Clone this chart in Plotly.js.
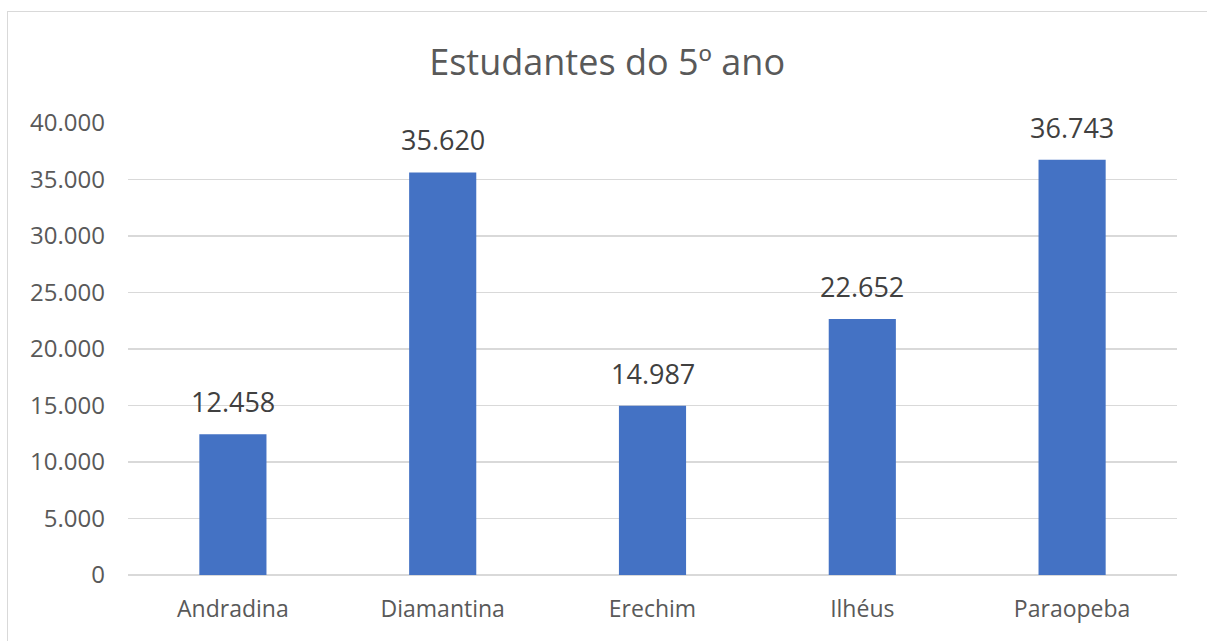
<!DOCTYPE html>
<html>
<head>
<meta charset="utf-8">
<script src="https://cdn.plot.ly/plotly-3.0.1.min.js"></script>
<style>
  html, body { margin: 0; padding: 0; background: #ffffff; overflow: hidden; }
  #chart { position: absolute; left: 0; top: 0; width: 1207px; height: 641px; }
  #frame { position: absolute; left: 7px; top: 11px; width: 1220px; height: 660px;
           border: 1px solid #d9d9d9; pointer-events: none; box-sizing: border-box; }
</style>
</head>
<body>
<div id="chart"></div>
<div id="frame"></div>
<script>
const categories = ["Andradina", "Diamantina", "Erechim", "Ilhéus", "Paraopeba"];
const values = [12458, 35620, 14987, 22652, 36743];
const tickValues = [0, 5000, 10000, 15000, 20000, 25000, 30000, 35000, 40000];
const chartTitle = "Estudantes do 5º ano";

function fmt(v) {
  return String(v).replace(/\B(?=(\d{3})+(?!\d))/g, ".");
}

const FONT = "Open Sans, Liberation Sans, sans-serif";

const trace = {
  type: "bar",
  x: categories,
  y: values,
  marker: { color: "#4472C4", line: { color: "#4472C4", width: 0 } },
  hoverinfo: "x+y"
};

const annotations = categories.map((c, i) => ({
  x: c,
  y: values[i],
  xref: "x",
  yref: "y",
  text: fmt(values[i]),
  showarrow: false,
  yanchor: "bottom",
  yshift: 12,
  font: { family: FONT, size: 27, color: "#404040" }
}));

const layout = {
  width: 1207,
  height: 641,
  paper_bgcolor: "rgba(0,0,0,0)",
  plot_bgcolor: "#ffffff",
  separators: ",.",
  margin: { l: 128, r: 30, t: 123, b: 66 },
  title: {
    text: chartTitle,
    font: { family: FONT, size: 36, color: "#595959" },
    x: 0.503,
    xanchor: "center",
    y: 1 - 62 / 641,
    yanchor: "middle",
    yref: "container"
  },
  bargap: 0.68,
  showlegend: false,
  xaxis: {
    type: "category",
    showgrid: false,
    showline: false,
    zeroline: false,
    ticks: "",
    ticklabelstandoff: 18,
    tickfont: { family: FONT, size: 23, color: "#595959" }
  },
  yaxis: {
    range: [0, 40000],
    tickvals: tickValues,
    ticktext: tickValues.map(fmt),
    showgrid: true,
    gridcolor: "#d9d9d9",
    gridwidth: 1.3,
    zeroline: true,
    zerolinecolor: "#d9d9d9",
    zerolinewidth: 1.3,
    showline: false,
    ticks: "",
    ticklabelstandoff: 22,
    tickfont: { family: FONT, size: 24, color: "#595959" }
  },
  annotations: annotations
};

Plotly.newPlot("chart", [trace], layout, { displayModeBar: false, staticPlot: true });
</script>
</body>
</html>
